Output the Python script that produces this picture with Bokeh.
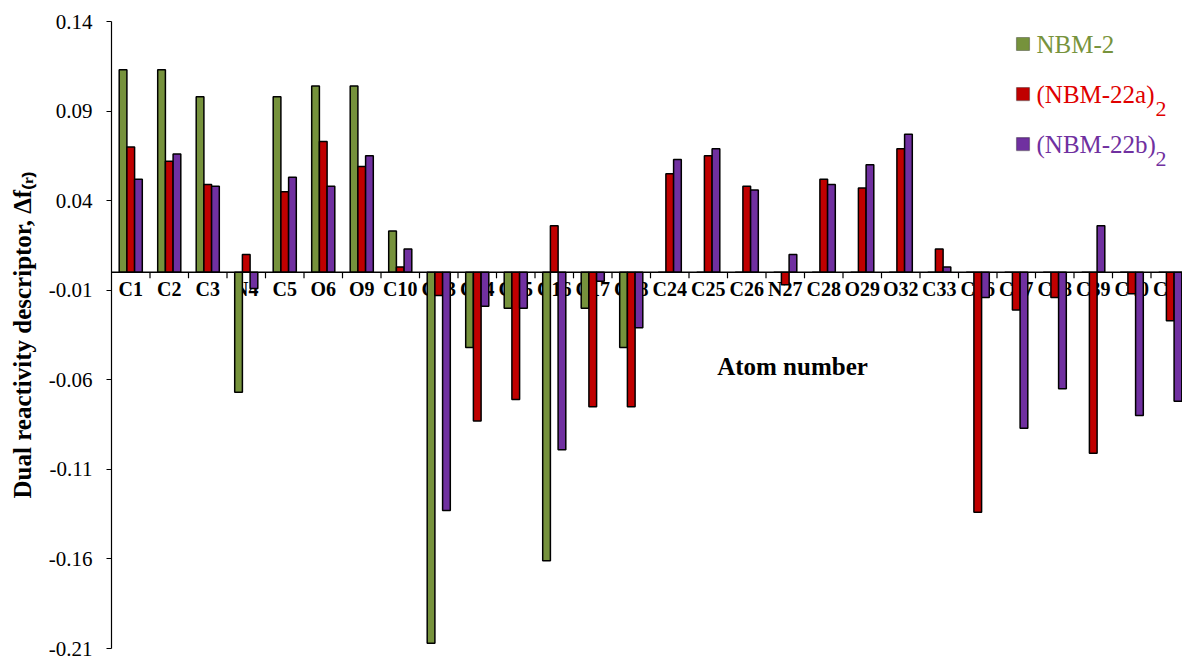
import numpy as np
from bokeh.plotting import figure
from bokeh.models import (ColumnDataSource, Range1d, FixedTicker, Span, Label,
                          BoxAnnotation, PrintfTickFormatter)
from bokeh.transform import dodge
from bokeh.core.properties import value
from bokeh.embed import file_html
from bokeh.resources import INLINE

# ---------------- data ----------------
atoms = ["C1", "C2", "C3", "N4", "C5", "O6", "O9", "C10", "C13", "C14", "C15",
         "C16", "C17", "C18", "C24", "C25", "C26", "N27", "C28", "O29", "O32",
         "C33", "C36", "C37", "C38", "C39", "C40", "C41"]
nbm2 = [0.113, 0.113, 0.098, -0.067, 0.098, 0.104, 0.104, 0.023, -0.207, -0.042,
        -0.020, -0.161, -0.020, -0.042, 0, 0, 0, 0, 0, 0, 0, 0, 0, 0, 0, 0, 0, 0]
nbm22a = [0.070, 0.062, 0.049, 0.010, 0.045, 0.073, 0.059, 0.003, -0.013, -0.083,
          -0.071, 0.026, -0.075, -0.075, 0.055, 0.065, 0.048, -0.007, 0.052, 0.047,
          0.069, 0.013, -0.134, -0.021, -0.014, -0.101, -0.012, -0.027]
nbm22b = [0.052, 0.066, 0.048, -0.009, 0.053, 0.048, 0.065, 0.013, -0.133, -0.019,
          -0.020, -0.099, -0.005, -0.031, 0.063, 0.069, 0.046, 0.010, 0.049, 0.060,
          0.077, 0.003, -0.014, -0.087, -0.065, 0.026, -0.080, -0.072]
series_names = ["NBM-2", "(NBM-22a)", "(NBM-22b)"]
y_ticks = [-0.21, -0.16, -0.11, -0.06, -0.01, 0.04, 0.09, 0.14]
y_title = "Dual reactivity descriptor, Δf₍ᵣ₎"
x_title = "Atom number"

# ---------------- style ----------------
GREEN = "#76923C"
RED = "#C00000"
PURPLE = "#7030A0"
SERIF = "Liberation Serif"

FRAME_LEFT = 111      # px
CAT_PX = 38.5         # px per category
ZERO_PX = 271.7       # px of y = 0
UNIT_PX = 1790.7      # px per data unit


def dx(px):
    return (px - FRAME_LEFT) / CAT_PX


def dy(py):
    return (ZERO_PX - py) / UNIT_PX


xc = np.arange(len(atoms)) + 0.5
src = ColumnDataSource(dict(x=xc, atom=atoms, g=nbm2, r=nbm22a, b=nbm22b))
bnd = ColumnDataSource(dict(xb=np.arange(1, len(atoms))))

p = figure(width=1182, height=656,
           x_range=Range1d(0, (1182 - FRAME_LEFT) / CAT_PX),
           y_range=Range1d(y_ticks[0], y_ticks[-1]),
           output_backend="svg", toolbar_location=None,
           x_axis_location=None,
           min_border_left=FRAME_LEFT, min_border_right=0,
           min_border_top=21, min_border_bottom=8)
p.outline_line_color = None
p.grid.visible = False
p.background_fill_color = "white"
p.border_fill_color = "white"

ax = p.yaxis[0]
ax.ticker = FixedTicker(ticks=y_ticks)
ax.formatter = PrintfTickFormatter(format="%.2f")
ax.axis_line_color = "black"
ax.axis_line_width = 1.2
ax.major_tick_line_color = "black"
ax.major_tick_out = 5
ax.major_tick_in = 0
ax.minor_tick_line_color = None
ax.major_label_standoff = 14
ax.major_label_text_font = SERIF
ax.major_label_text_font_size = "21px"
ax.major_label_text_color = "black"
ax.axis_label = y_title
ax.axis_label_text_font = SERIF
ax.axis_label_text_font_style = "bold"
ax.axis_label_text_font_size = "25px"
ax.axis_label_text_color = "black"
ax.axis_label_standoff = 10

# category labels (behind bars)
p.text(x="x", y=0, text="atom", source=src, text_align="center",
       text_baseline="middle", y_offset=17,
       text_font=value(SERIF), text_font_style="bold",
       text_font_size="20px", text_color="black")

W = 0.2
p.vbar(x=dodge("x", -W, range=p.x_range), top="g", bottom=0, width=W, source=src,
       fill_color=GREEN, line_color="black", line_width=1.5)
p.vbar(x=dodge("x", 0, range=p.x_range), top="r", bottom=0, width=W, source=src,
       fill_color=RED, line_color="black", line_width=1.5)
p.vbar(x=dodge("x", W, range=p.x_range), top="b", bottom=0, width=W, source=src,
       fill_color=PURPLE, line_color="black", line_width=1.5)

# zero axis line with category-boundary ticks
p.add_layout(Span(location=0, dimension="width", line_color="black", line_width=1.5))
p.segment(x0="xb", y0=0, x1="xb", y1=-6 / UNIT_PX, source=bnd,
          line_color="black", line_width=1.2)

# x title
p.add_layout(Label(x=dx(792), y=dy(366), text=x_title, text_align="center",
                   text_baseline="middle", text_font=SERIF, text_font_style="bold",
                   text_font_size="25px", text_color="black"))

# legend
leg_colors = [GREEN, RED, PURPLE]
leg_text_colors = ["#77933C", "#E00000", "#7030A0"]
for i, (name, fc, tc) in enumerate(zip(series_names, leg_colors, leg_text_colors)):
    cy = 43.5 + 50 * i
    p.add_layout(BoxAnnotation(left=dx(1016), right=dx(1029), top=dy(cy - 6.5),
                               bottom=dy(cy + 6.5), fill_color=fc, fill_alpha=1,
                               line_color="black", line_width=1.2))
    p.add_layout(Label(x=dx(1036), y=dy(cy), text=name, text_align="left",
                       text_baseline="middle", text_font=SERIF,
                       text_font_size="25px", text_color=tc))
    if i > 0:
        p.add_layout(Label(x=dx(1155), y=dy(cy + 15), text="2", text_align="left",
                           text_baseline="middle", text_font=SERIF,
                           text_font_size="22px", text_color=tc))

open("out.html", "w").write(file_html(p, INLINE))
